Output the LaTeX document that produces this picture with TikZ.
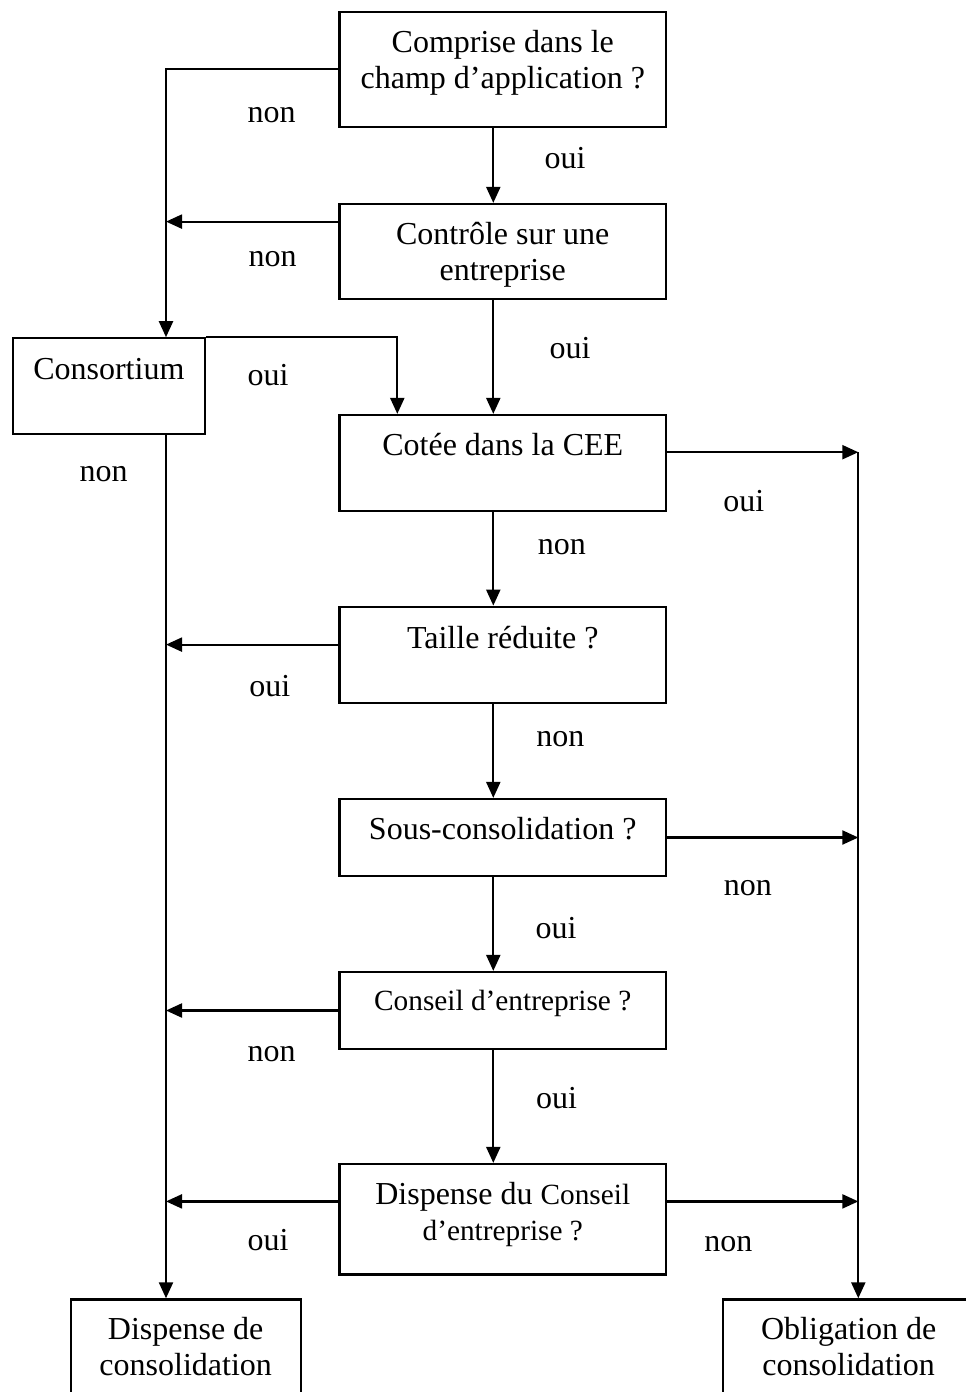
\documentclass[tikz,border=0pt]{standalone}
\usepackage{fontspec}
\setmainfont{Liberation Serif}
\usetikzlibrary{arrows.meta,calc}
\begin{document}
\begin{tikzpicture}[x=1pt,y=-1pt,
  box/.style={draw,line width=2.2pt,inner sep=0pt,rectangle},
  txt/.style={anchor=base,align=center,inner sep=0pt,font=\fontsize{32}{36}\selectfont},
  txtsm/.style={txt,font=\fontsize{29.3}{36}\selectfont},
  lbl/.style={anchor=base,inner sep=0pt,font=\fontsize{32}{36}\selectfont},
  arr/.style={line width=2.2pt,-{Triangle[length=16pt,width=14pt]}}]

\useasboundingbox (0,0) rectangle (966,1392);
\fill[white] (0,0) rectangle (966,1392);
\clip (0,0) rectangle (966,1392);

% spines and branch columns
\coordinate (lx) at (166,0);
\coordinate (rx) at (858.3,0);
\coordinate (cx) at (493.3,0);
\coordinate (kx) at (397.3,0);

% decision boxes (a multi-line text is placed by the baseline of its last line)
\node[box,minimum width=326.5pt,minimum height=115pt] (b1) at (502.75,69.2) {};
\node[txt] (t1) at (502.75,88.3) {Comprise dans le\\champ d’application ?};

\node[box,minimum width=326.5pt,minimum height=95.3pt] (b2) at (502.75,251.65) {};
\node[txt] (t2) at (502.75,280) {Contrôle sur une\\entreprise};

\node[box,minimum width=192.3pt,minimum height=96pt] (cons) at (108.85,386.3) {};
\node[txt] (tc) at (108.85,379.3) {Consortium};

\node[box,minimum width=326.5pt,minimum height=95.7pt] (b3) at (502.75,462.85) {};
\node[txt] (t3) at (502.75,455) {Cotée dans la CEE};

\node[box,minimum width=326.5pt,minimum height=96.6pt] (b4) at (502.75,655) {};
\node[txt] (t4) at (502.75,648.3) {Taille réduite ?};

\node[box,minimum width=326.5pt,minimum height=77pt] (b5) at (502.75,837.5) {};
\node[txt] (t5) at (502.75,839.3) {Sous-consolidation ?};

\node[box,minimum width=326.5pt,minimum height=77pt] (b6) at (502.75,1010.5) {};
\node[txtsm] (t6) at (502.75,1010.8) {Conseil d’entreprise ?};

\node[box,minimum width=326.5pt,minimum height=110.5pt] (b7) at (502.75,1219.25) {};
\node[txtsm] (t7) at (502.75,1240) {{\fontsize{32}{36}\selectfont Dispense du }Conseil\\d’entreprise ?};

% outcomes
\node[box,anchor=north,minimum width=230pt,minimum height=130pt] (dc) at (185.7,1298.3) {};
\node[txt] (tdc) at (185.7,1375) {Dispense de\\consolidation};

\node[box,anchor=north,minimum width=250.7pt,minimum height=130pt] (ob) at (848.65,1298.3) {};
\node[txt] (tob) at (848.65,1375) {Obligation de\\consolidation};

% connectors
\draw[arr] (b1.west) -| (cons.north -| lx);
\draw[arr] (b1.south -| cx) -- (b2.north -| cx);
\coordinate (p2) at ($(b2.north west)+(0,18.7)$);
\draw[arr] (p2) -- (p2 -| lx);
\draw[arr] (b2.south -| cx) -- (b3.north -| cx);
\draw[arr] (cons.north east) -| (b3.north -| kx);
\draw[arr] (cons.south -| lx) -- (dc.north -| lx);
\coordinate (p3) at ($(b3.north east)+(0,38.3)$);
\draw[arr] (p3) -- (p3 -| rx);
\draw[arr] (p3 -| rx) -- (ob.north -| rx);
\draw[arr] (b3.south -| cx) -- (b4.north -| cx);
\coordinate (p4) at ($(b4.north west)+(0,39)$);
\draw[arr] (p4) -- (p4 -| lx);
\draw[arr] (b4.south -| cx) -- (b5.north -| cx);
\draw[arr] (b5.east) -- (b5.east -| rx);
\draw[arr] (b5.south -| cx) -- (b6.north -| cx);
\draw[arr] (b6.west) -- (b6.west -| lx);
\draw[arr] (b6.south -| cx) -- (b7.north -| cx);
\coordinate (p7l) at ($(b7.north west)+(0,38.5)$);
\coordinate (p7r) at ($(b7.north east)+(0,38.5)$);
\draw[arr] (p7l) -- (p7l -| lx);
\draw[arr] (p7r) -- (p7r -| rx);

% branch labels
\node[lbl] (l1) at (271.7,122.7) {non};
\node[lbl] (l2) at (565,168.3) {oui};
\node[lbl] (l3) at (272.5,266.7) {non};
\node[lbl] (l4) at (570,358) {oui};
\node[lbl] (l5) at (268,385) {oui};
\node[lbl] (l6) at (103.7,481.7) {non};
\node[lbl] (l7) at (743.7,511.7) {oui};
\node[lbl] (l8) at (561.9,554) {non};
\node[lbl] (l9) at (269.7,696.7) {oui};
\node[lbl] (l10) at (560.3,746.7) {non};
\node[lbl] (l11) at (747.8,895.7) {non};
\node[lbl] (l12) at (556,938.3) {oui};
\node[lbl] (l13) at (271.6,1061.5) {non};
\node[lbl] (l14) at (556.6,1108.8) {oui};
\node[lbl] (l15) at (268,1250.7) {oui};
\node[lbl] (l16) at (728.3,1251) {non};
\end{tikzpicture}
\end{document}
